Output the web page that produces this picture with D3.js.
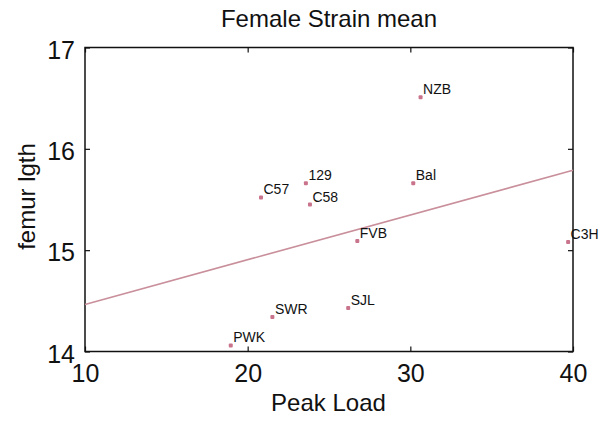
<!DOCTYPE html>
<html>
<head>
<meta charset="utf-8">
<script src="https://cdn.jsdelivr.net/npm/d3@7"></script>
<style>
  body { margin: 0; background: #fff; }
  text { font-family: "Liberation Sans", Arial, Helvetica, sans-serif; fill: #111; }
</style>
</head>
<body>
<div id="chart-area"></div>
<script>
// strain means
var strains = ["NZB", "129", "C57", "C58", "Bal", "FVB", "C3H", "SWR", "SJL", "PWK"];
var peakLoad = [30.63, 23.58, 20.82, 23.83, 30.18, 26.74, 39.70, 21.52, 26.18, 18.96];
var femurLgth = [16.51, 15.66, 15.52, 15.45, 15.66, 15.09, 15.08, 14.34, 14.43, 14.06];
var xTicks = [10, 20, 30, 40];
var yTicks = [14, 15, 16, 17];

var margin = { left: 85, right: 32, top: 47.5, bottom: 69.5 };
var W = 605, H = 421;
var width = W - margin.left - margin.right;
var height = H - margin.top - margin.bottom;

var data = strains.map(function (s, i) {
    return { name: s, x: peakLoad[i], y: femurLgth[i] };
});

var svg = d3.select("#chart-area")
    .append("svg")
    .attr("width", W)
    .attr("height", H);

var g = svg.append("g")
    .attr("transform", "translate(" + margin.left + "," + margin.top + ")");

var x = d3.scaleLinear().domain([10, 40]).range([0, width]);
var y = d3.scaleLinear().domain([14, 17]).range([height, 0]);

// axes, matlab style ticks pointing in
var xAxis = g.append("g")
    .attr("transform", "translate(0," + height + ")")
    .call(d3.axisBottom(x).tickValues(xTicks).tickFormat(d3.format("d"))
        .tickSizeInner(-5).tickSizeOuter(0).tickPadding(13));
g.append("g")
    .call(d3.axisTop(x).tickValues(xTicks).tickFormat("")
        .tickSizeInner(-5).tickSizeOuter(0));
var yAxis = g.append("g")
    .call(d3.axisLeft(y).tickValues(yTicks).tickFormat(d3.format("d"))
        .tickSizeInner(-5).tickSizeOuter(0).tickPadding(10));
g.append("g")
    .attr("transform", "translate(" + width + ",0)")
    .call(d3.axisRight(y).tickValues(yTicks).tickFormat("")
        .tickSizeInner(-5).tickSizeOuter(0));

g.selectAll(".domain").remove();
g.selectAll(".tick line").attr("stroke", "#111").attr("stroke-width", 1.2);
xAxis.selectAll("text").attr("font-size", "25px").attr("font-family", null);
yAxis.selectAll("text").attr("font-size", "25px").attr("font-family", null).attr("dy", "0.42em");

// frame
g.append("rect")
    .attr("x", 0).attr("y", 0)
    .attr("width", width).attr("height", height)
    .attr("fill", "none")
    .attr("stroke", "#111")
    .attr("stroke-width", 1.5);

// least squares fit line
var mx = d3.mean(data, d => d.x), my = d3.mean(data, d => d.y);
var sxy = d3.sum(data, d => (d.x - mx) * (d.y - my));
var sxx = d3.sum(data, d => (d.x - mx) * (d.x - mx));
var slope = sxy / sxx, icept = my - slope * mx;
var fit = x.domain().map(v => ({ x: v, y: icept + slope * v }));

g.append("path")
    .datum(fit)
    .attr("fill", "none")
    .attr("stroke", "#c98f9b")
    .attr("stroke-width", 1.6)
    .attr("d", d3.line().x(d => x(d.x)).y(d => y(d.y)));

// points + strain names
var pts = g.selectAll(".pt")
    .data(data)
    .enter().append("g")
    .attr("class", "pt")
    .attr("transform", d => "translate(" + x(d.x) + "," + y(d.y) + ")");

pts.append("rect")
    .attr("x", -2).attr("y", -2)
    .attr("width", 4).attr("height", 4)
    .attr("rx", 1)
    .attr("fill", "#c9748c");

pts.append("text")
    .attr("x", 2.5)
    .attr("y", -3)
    .attr("font-size", "14px")
    .text(d => d.name);

// title and axis labels
svg.append("text")
    .attr("x", 329).attr("y", 27)
    .attr("text-anchor", "middle")
    .attr("font-size", "24px")
    .text("Female Strain mean");

svg.append("text")
    .attr("x", margin.left + width / 2 - 0.5).attr("y", 411)
    .attr("text-anchor", "middle")
    .attr("font-size", "24px")
    .text("Peak Load");

svg.append("text")
    .attr("transform", "translate(35," + (margin.top + 149) + ") rotate(-90)")
    .attr("text-anchor", "middle")
    .attr("font-size", "24px")
    .text("femur lgth");
</script>
</body>
</html>
